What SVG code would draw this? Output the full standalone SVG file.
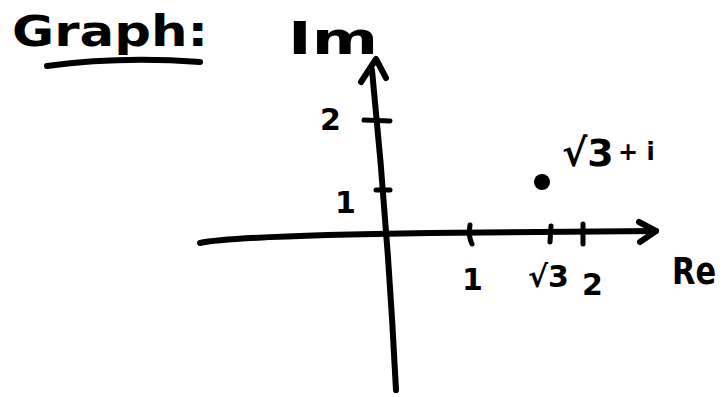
<svg xmlns="http://www.w3.org/2000/svg" width="726" height="397" viewBox="0 0 726 397">
<style>
.ax{fill:none;stroke:#000;stroke-width:6;stroke-linecap:round;stroke-linejoin:round}
.tk{fill:none;stroke:#000;stroke-width:5;stroke-linecap:round}
.t{font-family:"DejaVu Sans",sans-serif;font-weight:bold;fill:#000}
</style>
<rect width="726" height="397" fill="#fff"/>
<g id="title">
<text class="t" x="12" y="46" font-size="42" textLength="196" lengthAdjust="spacingAndGlyphs">Graph:</text>
<path class="ax" d="M47 66 Q120 56 200 62"/>
</g>
<g id="connectors">
<path class="ax" d="M200 243 Q230 236 430 233 L656 231"/>
<path class="ax" d="M639 222 L656 231 L640 242"/>
<path class="ax" d="M372 70 Q388 230 396 390"/>
<path class="ax" d="M361 82 L376 59 L386 78"/>
</g>
<g id="ticks">
<line class="tk" x1="364" y1="120" x2="390" y2="121"/>
<line class="tk" x1="376" y1="190" x2="390" y2="190"/>
<path class="tk" d="M470 225 Q468 236 472 244"/>
<line class="tk" x1="551" y1="226" x2="550" y2="242"/>
<line class="tk" x1="583" y1="224" x2="583" y2="244"/>
</g>
<g id="labels">
<text class="t" x="320" y="130" font-size="30">2</text>
<text class="t" x="335" y="213" font-size="30">1</text>
<text class="t" x="462" y="290" font-size="30">1</text>
<text class="t" x="528" y="287" font-size="30">√3</text>
<text class="t" x="582" y="295" font-size="30">2</text>
<text class="t" x="672" y="284" font-size="38" textLength="44" lengthAdjust="spacingAndGlyphs">Re</text>
<text class="t" x="288" y="54" font-size="44" textLength="90" lengthAdjust="spacingAndGlyphs">Im</text>
</g>
<g id="point">
<circle cx="542" cy="182" r="8" fill="#000"/>
<text class="t" x="562" y="166" font-size="38">√3</text>
<text class="t" x="618" y="160" font-size="24">+ i</text>
</g>
</svg>
